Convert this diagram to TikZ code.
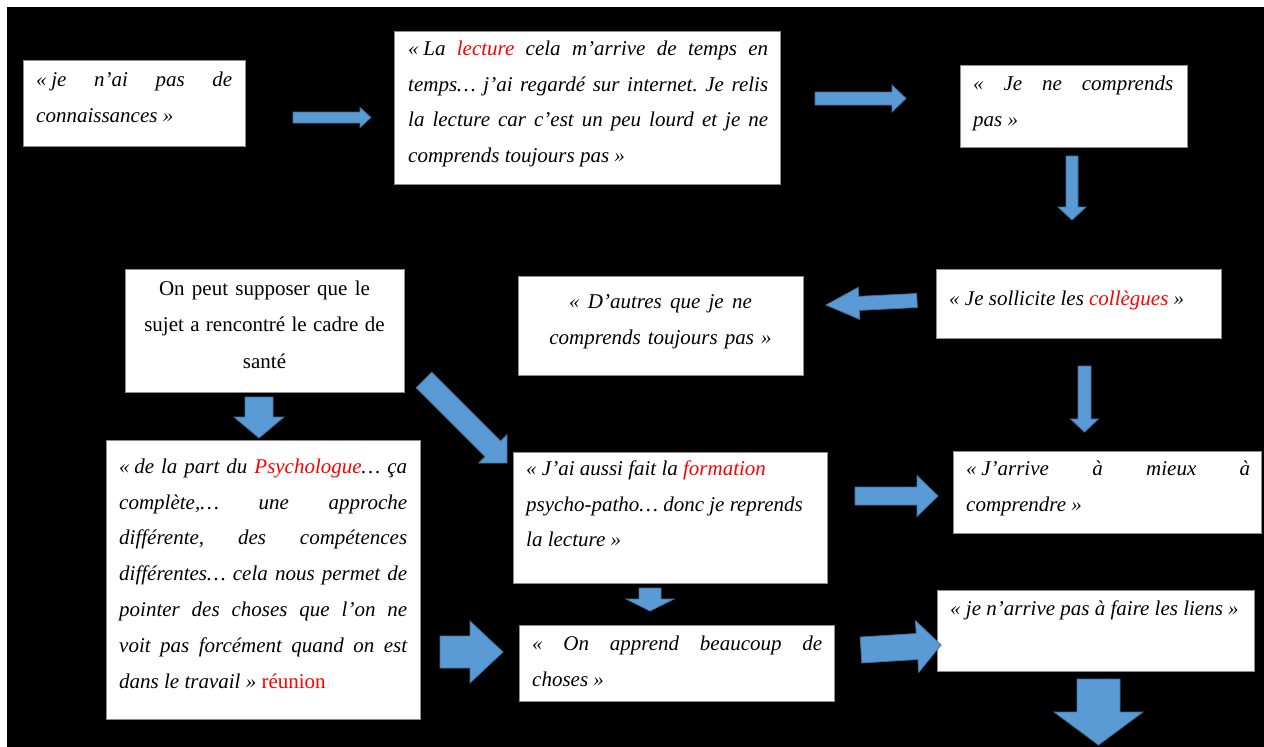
\documentclass[tikz,border=0pt]{standalone}
\usepackage{fontspec}
\setmainfont{Liberation Serif}
\usetikzlibrary{calc}
\definecolor{arrfill}{HTML}{5B9BD5}
\definecolor{arrline}{HTML}{41719C}
\definecolor{boxline}{HTML}{8C8C8C}
\newcommand\jl[1]{\leavevmode\hbox to \hsize{\spaceskip=0pt\xspaceskip=0pt\relax #1}}
\newcommand\fr{\spaceskip=0pt\xspaceskip=0pt\relax\rule{0pt}{17pt}}
\newcommand\qs{«\hspace{0.22em}}
% block arrow: start, tip, half shaft width, half head width, head length
\newcommand\barrow[5]{%
  \coordinate (ba) at #1;
  \coordinate (bb) at #2;
  \coordinate (bh) at ($(bb)!#5!(ba)$);
  \filldraw[blockarrow] ($(ba)!#3!90:(bb)$) -- ($(bh)!#3!-90:(ba)$) -- ($(bh)!#4!-90:(ba)$) -- (bb) -- ($(bh)!#4!90:(ba)$) -- ($(bh)!#3!90:(ba)$) -- ($(ba)!#3!-90:(bb)$) -- cycle;
}
\begin{document}
\begin{tikzpicture}[x=1pt,y=-1pt,
  box/.style={draw=boxline, line width=1pt, fill=white, inner sep=0pt, anchor=north west},
  txt/.style={inner sep=0pt, anchor=north west, align=justify, font=\fontsize{21}{35.8}\selectfont\itshape\frenchspacing},
  ctxt/.style={inner sep=0pt, anchor=north, align=center, font=\fontsize{21}{35.8}\selectfont\itshape\frenchspacing},
  blockarrow/.style={fill=arrfill, draw=arrline, line width=0.8pt, line join=miter}]
\useasboundingbox (0,0) rectangle (1264,747);
\fill[white] (0,0) rectangle (1264,747);
\fill[black] (7,7) rectangle (1264,747);

% boxes
\node[box, minimum width=222pt, minimum height=86pt] (b1) at (23,60) {};
\node[box, minimum width=386pt, minimum height=153pt] (b2) at (394,31) {};
\node[box, minimum width=227pt, minimum height=82pt] (b3) at (960,65) {};
\node[box, minimum width=285pt, minimum height=69pt] (b4) at (936,269) {};
\node[box, minimum width=285pt, minimum height=99pt] (b5) at (518,276) {};
\node[box, minimum width=279pt, minimum height=123pt] (b6) at (125,269) {};
\node[box, minimum width=314pt, minimum height=279pt] (b7) at (106,440) {};
\node[box, minimum width=314pt, minimum height=131pt] (b8) at (513,452) {};
\node[box, minimum width=308pt, minimum height=82pt] (b9) at (953,451) {};
\node[box, minimum width=315pt, minimum height=76pt] (b10) at (519,625) {};
\node[box, minimum width=317pt, minimum height=81pt] (b11) at (937,590) {};

% texts
\node[txt, text width=196pt] (t1) at (36,69) {\jl{\fr\qs je n’ai pas de}\\connaissances »};
\node[txt, text width=360pt] (t2) at (408,38) {\jl{\fr\qs La {\color{red}lecture} cela m’arrive de temps en}\\
\jl{temps… j’ai regardé sur internet. Je relis}\\
\jl{la lecture car c’est un peu lourd et je ne}\\
comprends toujours pas »};
\node[txt, text width=200pt] (t3) at (973,73) {\jl{\fr« Je ne comprends}\\pas »};
\node[txt, text width=265pt] (t4) at (949,288) {\fr« Je sollicite les {\color{red}collègues} »};
\node[ctxt, text width=280pt] (t5) at (660.5,291) {\fr« D’autres que je ne\\comprends toujours pas »};
\node[ctxt, text width=275pt, font=\fontsize{21}{36.5}\selectfont\upshape] (t6) at (264.5,278) {\fr On peut supposer que le\\sujet a rencontré le cadre de\\santé};
\node[txt, text width=288pt] (t7) at (119,456) {\jl{\fr\qs de la part du {\color{red}Psychologue}… ça}\\
\jl{complète,… une approche}\\
\jl{différente, des compétences}\\
\jl{différentes… cela nous permet de}\\
\jl{pointer des choses que l’on ne}\\
\jl{voit pas forcément quand on est}\\
dans le travail » {\upshape\color{red}réunion}};
\node[txt, text width=295pt] (t8) at (526,458) {\fr« J’ai aussi fait la {\color{red}formation}\\
psycho-patho… donc je reprends\\
la lecture »};
\node[txt, text width=284pt] (t9) at (966,458) {\jl{\fr\qs J’arrive à mieux à}\\comprendre »};
\node[txt, text width=290pt] (t10) at (532,633) {\jl{\fr« On apprend beaucoup de}\\choses »};
\node[txt, text width=300pt] (t11) at (950,598) {\fr« je n’arrive pas à faire les liens »};

% arrow end points
\coordinate (a1s) at (293,117.5);  \coordinate (a1e) at (371,117.5);
\coordinate (a2s) at (815,98.5);   \coordinate (a2e) at (906,98.5);
\coordinate (a3s) at (1072,156);   \coordinate (a3e) at (1072,220);
\coordinate (a4s) at (917,300.5);  \coordinate (a4e) at (826,305);
\coordinate (a5s) at (1084.5,366); \coordinate (a5e) at (1084.5,432);
\coordinate (a6s) at (259,397);    \coordinate (a6e) at (259,438);
\coordinate (a7s) at (424,380);    \coordinate (a7e) at (507,463);
\coordinate (a8s) at (440,652);    \coordinate (a8e) at (503,652);
\coordinate (a9s) at (855,496);    \coordinate (a9e) at (938,496);
\coordinate (a10s) at (650,588);   \coordinate (a10e) at (650,611);
\coordinate (a11s) at (861,650);   \coordinate (a11e) at (941,645);
\coordinate (a12s) at (1098.5,679); \coordinate (a12e) at (1098.5,745);

\barrow{(a1s)}{(a1e)}{5.5pt}{10pt}{11pt}
\barrow{(a2s)}{(a2e)}{6.5pt}{13.5pt}{14pt}
\barrow{(a3s)}{(a3e)}{6pt}{14pt}{13pt}
\barrow{(a4s)}{(a4e)}{7pt}{16pt}{33pt}
\barrow{(a5s)}{(a5e)}{6.5pt}{14pt}{13pt}
\barrow{(a6s)}{(a6e)}{14pt}{25pt}{21pt}
\barrow{(a7s)}{(a7e)}{11pt}{20pt}{20pt}
\barrow{(a8s)}{(a8e)}{16pt}{31pt}{33pt}
\barrow{(a9s)}{(a9e)}{9pt}{20.5pt}{21pt}
\barrow{(a10s)}{(a10e)}{11pt}{24pt}{12pt}
\barrow{(a11s)}{(a11e)}{13pt}{26pt}{24pt}
\barrow{(a12s)}{(a12e)}{21.5pt}{44.5pt}{33pt}
\end{tikzpicture}
\end{document}
